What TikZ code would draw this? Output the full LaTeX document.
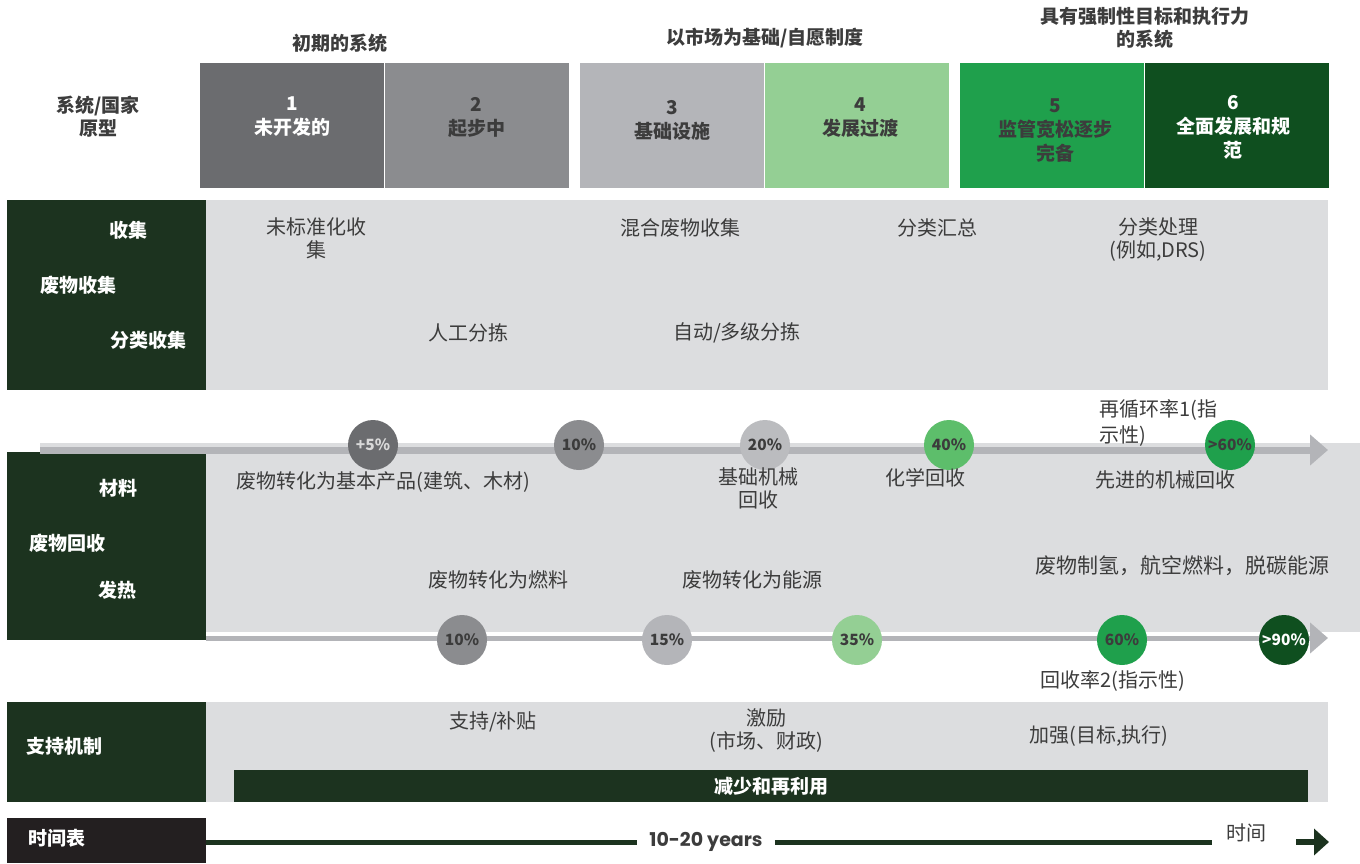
\documentclass[tikz,border=0pt]{standalone}
\usepackage{fontspec}
\setmainfont{Noto Sans CJK SC}
\newfontfamily\pop{Poppins}
\usetikzlibrary{arrows.meta}
\definecolor{g1}{HTML}{6B6C6F}
\definecolor{g2}{HTML}{8B8C8F}
\definecolor{g3}{HTML}{B4B5B9}
\definecolor{g20}{HTML}{BBBCBF}
\definecolor{lg}{HTML}{94CF94}
\definecolor{mg}{HTML}{1FA04C}
\definecolor{g40}{HTML}{5DBE6B}
\definecolor{dg}{HTML}{0F4F1F}
\definecolor{panel}{HTML}{1C331F}
\definecolor{band}{HTML}{DCDDDF}
\definecolor{txt}{HTML}{3C3C3C}
\definecolor{arr}{HTML}{B3B4B8}
\definecolor{tl}{HTML}{231F20}
\tikzset{
  hdr/.style={font=\fontsize{19}{23}\selectfont\bfseries, text=txt, align=center},
  stagebox/.style={draw=none, minimum width=184pt, minimum height=125pt, inner sep=0pt},
  stagetxt/.style={font=\fontsize{19}{24}\selectfont\bfseries, align=center},
  lbl/.style={font=\fontsize{19}{23}\selectfont\bfseries, text=white, align=center},
  bt/.style={font=\fontsize{20}{23}\selectfont, text=txt, align=center},
  circ/.style={circle, minimum size=50pt, inner sep=0pt, font=\fontsize{15.5}{15.5}\selectfont\bfseries, text=txt},
  arrline/.style={line width=7pt, arr, -{Triangle[length=18pt,width=30pt]}},
}
\begin{document}
\begin{tikzpicture}[x=1pt,y=-1pt]
\useasboundingbox (0,0) rectangle (1360,863);
% group headers
\node[hdr] (grp1) at (340,43) {初期的系统};
\node[hdr] (grp2) at (765,38) {以市场为基础/自愿制度};
\node[hdr] (grp3) at (1145,28) {具有强制性目标和执行力\\的系统};
\node[hdr] (proto) at (98,117) {系统/国家\\原型};
% stage boxes
\node[stagebox, fill=g1] (s1) at (292,125.5) {};
\node[stagebox, fill=g2] (s2) at (476.5,125.5) {};
\node[stagebox, fill=g3] (s3) at (672,125.5) {};
\node[stagebox, fill=lg] (s4) at (857,125.5) {};
\node[stagebox, fill=mg] (s5) at (1052,125.5) {};
\node[stagebox, fill=dg] (s6) at (1237,125.5) {};
\node[stagetxt, text=white] (t1) at (292,117) {1\\未开发的};
\node[stagetxt, text=txt] (t2) at (476.5,118) {2\\起步中};
\node[stagetxt, text=txt] (t3) at (672,120) {3\\基础设施};
\node[stagetxt, text=txt] (t4) at (860,118) {4\\发展过渡};
\node[stagetxt, text=txt] (t5) at (1055,130) {5\\监管宽松逐步\\完备};
\node[stagetxt, text=white] (t6) at (1233,127) {6\\全面发展和规\\范};
% section 1 collection
\fill[band] (206,200) rectangle (1328,390);
\fill[panel] (7,200) rectangle (206,390);
\node[lbl] (l11) at (128,230) {收集};
\node[lbl] (l12) at (78,285) {废物收集};
\node[lbl] (l13) at (148,340) {分类收集};
\node[bt] (c11) at (316,238) {未标准化收\\集};
\node[bt] (c12) at (680,228) {混合废物收集};
\node[bt] (c13) at (937,228) {分类汇总};
\node[bt] (c14) at (1158,240) {分类处理\\(例如,DRS)};
\node[bt] (c15) at (468,333) {人工分拣};
\node[bt] (c16) at (737,333) {自动/多级分拣};
% section 2 recycling
\fill[band] (40,443) rectangle (1360,632);
\fill[panel] (7,452) rectangle (206,640);
\coordinate (a1s) at (40,450);
\coordinate (a1e) at (1328,450);
\coordinate (a2s) at (206,638);
\coordinate (a2e) at (1328,638);
\draw[arrline] (a1s) -- (a1e);
\draw[white, line width=9pt] (a2s) -- (1310,638);
\draw[arrline, line width=5pt] (a2s) -- (a2e);
\node[lbl] (l21) at (118,488) {材料};
\node[lbl] (l22) at (67,543) {废物回收};
\node[lbl] (l23) at (117,590) {发热};
\node[circ, fill=g1, text=white!85!black] (r1) at (373,445) {+5\%};
\node[circ, fill=g2] (r2) at (579,445) {10\%};
\node[circ, fill=g20] (r3) at (765,445) {20\%};
\node[circ, fill=g40] (r4) at (949,445) {40\%};
\node[circ, fill=mg] (r5) at (1230,445) {>60\%};
\node[circ, fill=g2] (h1) at (462,640) {10\%};
\node[circ, fill=g3] (h2) at (667,640) {15\%};
\node[circ, fill=lg] (h3) at (857,640) {35\%};
\node[circ, fill=mg] (h4) at (1122,640) {60\%};
\node[circ, fill=dg, text=white] (h5) at (1284,640) {>90\%};
\node[bt] (m1) at (383,482) {废物转化为基本产品(建筑、木材)};
\node[bt] (m2) at (758,488) {基础机械\\回收};
\node[bt] (m3) at (925,478) {化学回收};
\node[bt] (m4) at (1165,480) {先进的机械回收};
\node[bt, align=left, anchor=north west, font=\fontsize{20}{26}\selectfont] (rr1) at (1096,396) {再循环率1(指\\示性)};
\node[bt] (e1) at (498,580) {废物转化为燃料};
\node[bt] (e2) at (752,580) {废物转化为能源};
\node[bt, font=\fontsize{21}{23}\selectfont] (e3) at (1182,566) {废物制氢，航空燃料，脱碳能源};
\node[bt] (rr2) at (1113,681) {回收率2(指示性)};
% section 3 support
\fill[band] (206,702) rectangle (1328,802);
\fill[panel] (7,702) rectangle (206,802);
\node[lbl] (l31) at (65,746) {支持机制};
\node[bt] (p1) at (493,722) {支持/补贴};
\node[bt] (p2) at (766,731) {激励\\(市场、财政)};
\node[bt] (p3) at (1099,736) {加强(目标,执行)};
\node[fill=panel, minimum width=1074pt, minimum height=32pt, inner sep=0pt, lbl] (bar) at (771,786) {减少和再利用};
% section 4 timeline
\fill[tl] (7,818) rectangle (206,863);
\node[lbl] (l41) at (57,838) {时间表};
\node[font=\pop\fontsize{19}{19}\selectfont\bfseries, text=txt, inner sep=12pt] (yrs) at (706,842) {10-20 years};
\node[bt] (tm) at (1246,833) {时间};
\coordinate (ts) at (206,842);
\coordinate (te) at (1212,842);
\coordinate (aw1) at (1296,842);
\coordinate (aw2) at (1329,842);
\draw[panel, line width=5pt] (ts) -- (yrs.west);
\draw[panel, line width=5pt] (yrs.east) -- (te);
\draw[panel, line width=6pt, -{Triangle[length=15pt,width=26pt]}] (aw1) -- (aw2);
\end{tikzpicture}
\end{document}
